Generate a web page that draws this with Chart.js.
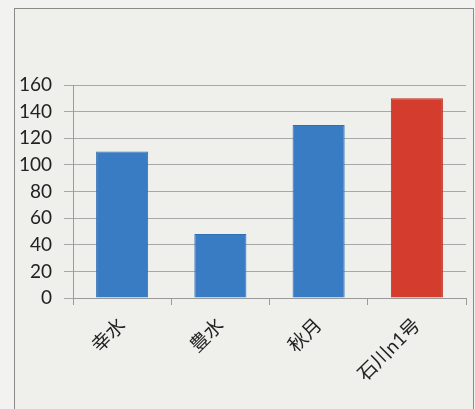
<!DOCTYPE html>
<html>
<head>
<meta charset="utf-8">
<script src="https://cdn.jsdelivr.net/npm/chart.js@4"></script>
<style>
  html, body { margin: 0; padding: 0; background: #f2f2f0; }
  #frame { position: absolute; left: 14px; top: 8px; width: 458px; height: 420px; border: 1px solid #8a8a8a; background: #efefec; }
  #wrap { position: absolute; left: 0; top: 0; width: 475px; height: 409px; }
</style>
</head>
<body>
<div id="frame"></div>
<div id="wrap"><canvas id="c" width="475" height="409"></canvas></div>
<script>
// Pear varieties and values
const categories = ["幸水", "豊水", "秋月", "石川n1号"];
const values = [110, 48, 130, 150];
const barColors = ["#3a7cc3", "#3a7cc3", "#3a7cc3", "#d43d2e"];
const yTicks = [0, 20, 40, 60, 80, 100, 120, 140, 160];

const font = { family: "Lato, 'Noto Sans CJK JP', sans-serif", size: 19 };

new Chart(document.getElementById("c"), {
    type: "bar",
    data: {
        labels: categories,
        datasets: [{
            data: values,
            backgroundColor: barColors,
            borderColor: barColors.map(c => c === "#d43d2e" ? "#c0301f" : "#2f6fb3"),
            borderWidth: 1,
            categoryPercentage: 1,
            barPercentage: 0.53
        }]
    },
    options: {
        responsive: false,
        animation: false,
        layout: { padding: { left: 14, top: 85, right: 9, bottom: 0 } },
        plugins: { legend: { display: false }, tooltip: { enabled: false } },
        scales: {
            x: {
                grid: { offset: true, drawOnChartArea: false, drawTicks: true, tickLength: 7, color: "#9a9a9a" },
                border: { color: "#9a9a9a" },
                ticks: { font: font, color: "#222", maxRotation: 45, minRotation: 45, padding: 9 },
                afterFit: s => { s.height = 409 - 298; }
            },
            y: {
                min: 0, max: 160,
                afterBuildTicks: s => { s.ticks = yTicks.map(v => ({ value: v })); },
                grid: { color: "#a8a8a8", tickLength: 9 },
                border: { color: "#9a9a9a" },
                ticks: { font: font, color: "#222", padding: 12 },
                afterFit: s => { s.width = 73 - 14; }
            }
        }
    }
});
</script>
</body>
</html>
